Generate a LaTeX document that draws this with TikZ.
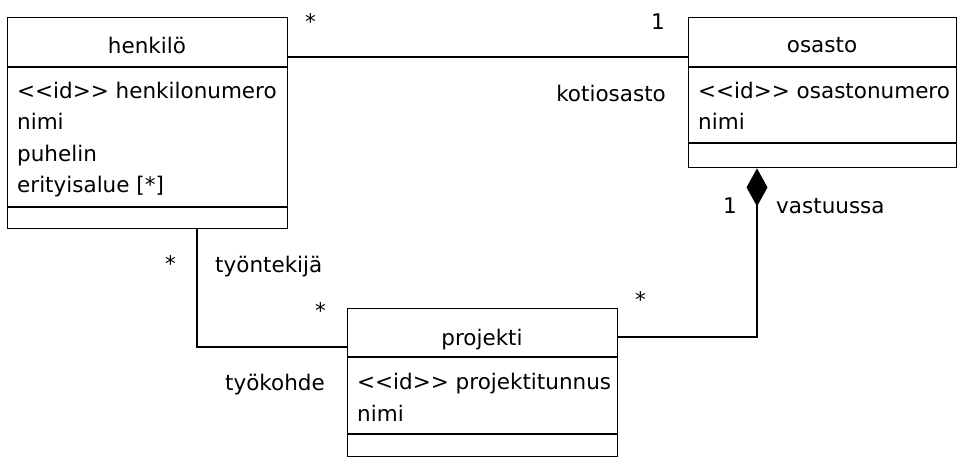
\documentclass[tikz,border=0pt]{standalone}
\usepackage{fontspec}
\setmainfont{DejaVu Sans}
\usetikzlibrary{arrows.meta,calc}
\newcommand{\idst}{{<}{<}id{>}{>}}
\begin{document}
\begin{tikzpicture}[x=1pt,y=-1pt,
  cls/.style={draw,line width=1.4pt,rectangle,inner sep=0,anchor=north west},
  txt/.style={inner sep=0,anchor=base west,font=\fontsize{21.5pt}{24pt}\selectfont},
  ttl/.style={inner sep=0,anchor=base,font=\fontsize{21.5pt}{24pt}\selectfont},
  conn/.style={line width=1.4pt}]
\useasboundingbox[fill=white] (0,0) rectangle (957,457);
% henkilo
\node[cls,minimum width=280pt,minimum height=211pt] (henkilo) at (7,17) {};
\draw[conn] (7,67) -- (287,67);
\draw[conn] (7,207) -- (287,207);
\node[ttl] (ht) at (147,54) {henkilö};
\node[txt] (h1) at (17,99) {\idst\ henkilonumero};
\node[txt] (h2) at (17,130) {nimi};
\node[txt] (h3) at (17,161) {puhelin};
\node[txt] (h4) at (17,192) {erityisalue [*]};
% osasto
\node[cls,minimum width=268pt,minimum height=150pt] (osasto) at (688,17) {};
\draw[conn] (688,67) -- (956,67);
\draw[conn] (688,143) -- (956,143);
\node[ttl] (ot) at (822,53) {osasto};
\node[txt] (o1) at (698,99) {\idst\ osastonumero};
\node[txt] (o2) at (698,130) {nimi};
% projekti
\node[cls,minimum width=270pt,minimum height=148pt] (projekti) at (347,308) {};
\draw[conn] (347,357) -- (617,357);
\draw[conn] (347,434) -- (617,434);
\node[ttl] (pt) at (482,345) {projekti};
\node[txt] (p1) at (357,389) {\idst\ projektitunnus};
\node[txt] (p2) at (357,421) {nimi};
% connectors
\coordinate (a1) at ($(henkilo.north east)+(0,40)$);
\coordinate (a2) at ($(osasto.north west)+(0,40)$);
\draw[conn] (a1) -- (a2);
\coordinate (b1) at ($(henkilo.south west)+(190,0)$);
\coordinate (b2) at ($(projekti.north west)+(0,39)$);
\draw[conn] (b1) |- (b2);
\coordinate (c1) at ($(projekti.north east)+(0,29)$);
\coordinate (c2) at ($(osasto.south west)+(69,0)$);
\draw[conn,-{Diamond[length=38pt,width=21pt,fill=black]}] (c1) -| (c2);
% labels
\node[txt] (l1) at (305,30) {*};
\node[txt] (l2) at (651,30) {1};
\node[txt,anchor=base east] (l3) at (666,102) {kotiosasto};
\node[txt] (l4) at (723,213) {1};
\node[txt] (l5) at (776,213) {vastuussa};
\node[txt] (l6) at (165,271) {*};
\node[txt] (l7) at (215,272) {työntekijä};
\node[txt] (l8) at (315,318) {*};
\node[txt,anchor=base east] (l9) at (325,390) {työkohde};
\node[txt] (l10) at (635,307) {*};
\end{tikzpicture}
\end{document}
